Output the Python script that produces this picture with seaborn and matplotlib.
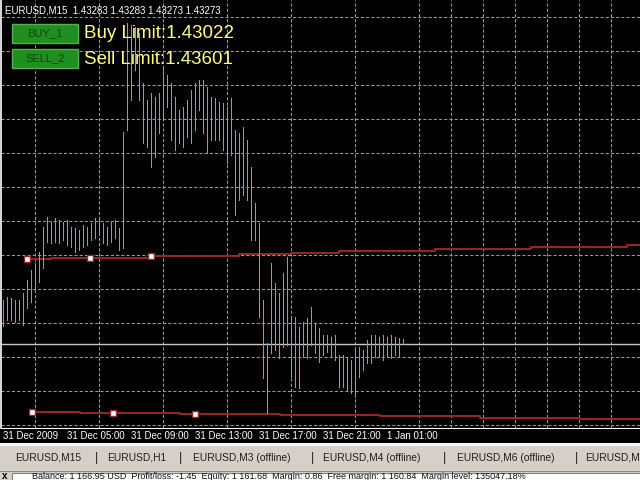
import matplotlib
matplotlib.use("Agg")
import matplotlib.pyplot as plt
from matplotlib.patches import Rectangle
import numpy as np
import seaborn as sns

# EURUSD M15 bars, 31 Dec 2009 from 01:00 (one bar = 15 min)
bar_high = [
    1.43361, 1.43367, 1.43365, 1.43361, 1.43361, 1.43375, 1.43401, 1.43421, 1.43435, 1.43457,
    1.43507, 1.43527, 1.43517, 1.43525, 1.43521, 1.43517, 1.43521, 1.43507, 1.43505, 1.43501,
    1.43511, 1.43507, 1.43515, 1.43525, 1.43527, 1.43515, 1.43507, 1.43517, 1.43521, 1.43505,
    1.43697, 1.43915, 1.43911, 1.43907, 1.43895, 1.43795, 1.43761, 1.43775, 1.43767, 1.43775,
    1.43827, 1.43811, 1.43795, 1.43767, 1.43741, 1.43747, 1.43761, 1.43781, 1.43795, 1.43801,
    1.43801, 1.43787, 1.43767, 1.43765, 1.43757, 1.43755, 1.43747, 1.43765, 1.43701, 1.43695,
    1.43707, 1.43681, 1.43627, 1.43555, 1.43515, 1.43361, 1.43275, 1.43435, 1.43395, 1.43375,
    1.43415, 1.43447, 1.43327, 1.43327, 1.43307, 1.43317, 1.43325, 1.43347, 1.43315, 1.43305,
    1.43291, 1.43291, 1.43287, 1.43291, 1.43251, 1.43251, 1.43247, 1.43241, 1.43265, 1.43267,
    1.43261, 1.43281, 1.43291, 1.43291, 1.43287, 1.43291, 1.43287, 1.43291, 1.43287, 1.43285,
    1.43283,
]
bar_low = [
    1.43309, 1.43321, 1.43321, 1.43317, 1.43321, 1.43311, 1.43345, 1.43357, 1.43381, 1.43397,
    1.43425, 1.43477, 1.43475, 1.43477, 1.43475, 1.43481, 1.43471, 1.43467, 1.43457, 1.43461,
    1.43467, 1.43471, 1.43481, 1.43485, 1.43491, 1.43475, 1.43471, 1.43477, 1.43485, 1.43461,
    1.43465, 1.43701, 1.43761, 1.43821, 1.43761, 1.43675, 1.43667, 1.43627, 1.43647, 1.43695,
    1.43721, 1.43747, 1.43681, 1.43661, 1.43675, 1.43667, 1.43687, 1.43675, 1.43701, 1.43741,
    1.43695, 1.43655, 1.43681, 1.43681, 1.43681, 1.43661, 1.43635, 1.43651, 1.43531, 1.43561,
    1.43571, 1.43561, 1.43481, 1.43481, 1.43327, 1.43205, 1.43135, 1.43255, 1.43261, 1.43245,
    1.43267, 1.43271, 1.43207, 1.43187, 1.43185, 1.43247, 1.43245, 1.43271, 1.43255, 1.43237,
    1.43251, 1.43257, 1.43247, 1.43241, 1.43187, 1.43187, 1.43181, 1.43175, 1.43167, 1.43207,
    1.43221, 1.43235, 1.43235, 1.43247, 1.43247, 1.43241, 1.43247, 1.43245, 1.43251, 1.43247,
    1.43273,
]

time_ticks = [0, 16, 32, 48, 64, 80, 96]
time_labels = ["31 Dec 2009", "31 Dec 05:00", "31 Dec 09:00", "31 Dec 13:00",
               "31 Dec 17:00", "31 Dec 21:00", "1 Jan 01:00"]

# stepped red lines (bar index, price)
upper_bars = [6, 12, 37, 59, 72, 84, 108, 132, 156, 160]
upper_price = [1.43443, 1.43446, 1.43450, 1.43453, 1.43456, 1.43459, 1.43463, 1.43468, 1.43471, 1.43471]
lower_bars = [7.25, 19.25, 44.25, 69.25, 94.25, 119.25, 144.25, 160]
lower_price = [1.43137, 1.43135, 1.43133, 1.43131, 1.43128, 1.43125, 1.43123, 1.43123]
upper_mark_bars = [6, 21.75, 37]
upper_mark_price = [1.43443, 1.43446, 1.43450]
lower_mark_bars = [7.25, 27.5, 48]
lower_mark_price = [1.43137, 1.43135, 1.43133]

bid = 1.43273
header = "EURUSD,M15  1.43283 1.43283 1.43273 1.43273"
buy_limit = 1.43022
sell_limit = 1.43601
tabs = ["EURUSD,M15", "EURUSD,H1", "EURUSD,M3 (offline)", "EURUSD,M4 (offline)",
        "EURUSD,M6 (offline)", "EURUSD,M"]
tab_x = [15, 107, 193, 323, 457, 585]
terminal = ("Balance: 1 166.95 USD  Profit/loss: -1.45  Equity: 1 161.68  "
            "Margin: 0.86  Free margin: 1 160.84  Margin level: 135047.18%")

sns.set_style("dark", {"axes.facecolor": "black", "figure.facecolor": "black"})
plt.rcParams["font.family"] = ["Liberation Sans", "DejaVu Sans"]

W, H = 640, 480
fig = plt.figure(figsize=(6.4, 4.8), dpi=100, facecolor="black")


def fx(x):
    return x / W


def fy(y):
    return 1 - y / H


ax = fig.add_axes([fx(1), fy(428), 1.0, 428 / H])
ax.set_facecolor("black")

idx = np.arange(len(bar_high))
ax.vlines(idx, bar_low, bar_high, color="#22ee22", lw=0.72, antialiased=False, zorder=3)

red = "#9b2626"
sns.lineplot(x=upper_bars, y=upper_price, drawstyle="steps-post", color=red, lw=1.4, ax=ax, zorder=2)
sns.lineplot(x=lower_bars, y=lower_price, drawstyle="steps-post", color=red, lw=1.4, ax=ax, zorder=2)
sns.scatterplot(x=upper_mark_bars + lower_mark_bars, y=upper_mark_price + lower_mark_price,
                marker="s", s=18, color="white", edgecolor=red, linewidth=1.0, ax=ax, zorder=4)
ax.axhline(bid, color="#c8c8c8", lw=1.0, zorder=2)

ax.set_xlim(-0.5, 159.5)
ax.set_ylim(1.43105, 1.43961)

# grid every 8 bars / 34 px
ax.set_xticks(np.arange(0, 160, 8), minor=True)
ax.set_yticks(1.43927 - 0.00068 * np.arange(13), minor=True)
ax.set_yticks([])
ax.grid(which="minor", color="#9a9a9a", lw=0.75, ls=(0, (3, 2)), zorder=1)
ax.grid(which="major", visible=False)
ax.set_xticks(time_ticks)
ax.set_xticklabels(time_labels, ha="left")
ax.tick_params(axis="x", which="major", colors="white", length=3, width=0.8,
               direction="out", pad=-1, labelsize=7)
ax.tick_params(axis="x", which="minor", length=0)
ax.tick_params(axis="y", which="both", length=0)
for side in ["top", "right"]:
    ax.spines[side].set_visible(False)
ax.spines["left"].set_color("white")
ax.spines["bottom"].set_color("white")
ax.spines["left"].set_linewidth(1.2)
ax.spines["bottom"].set_linewidth(0.8)

fig.text(fx(5), fy(10.5), header, color="white", fontsize=7, va="center", ha="left")

# buttons and limit texts
for y0, name, label in [(24, "BUY_1", f"Buy Limit:{buy_limit:.5f}"),
                        (49, "SELL_2", f"Sell Limit:{sell_limit:.5f}")]:
    fig.patches.append(Rectangle((fx(12), fy(y0 + 19)), 66 / W, 19 / H, transform=fig.transFigure,
                                 facecolor="#1f8f1f", edgecolor="#55b055", lw=1.0, zorder=5))
    fig.text(fx(45), fy(y0 + 9.5), name, color="#0c480c", fontsize=8, ha="center", va="center", zorder=6)
    fig.text(fx(84), fy(y0 + 10), label, color="#ffff80", fontsize=13.5, ha="left", va="center", zorder=6)

# bottom tab bar and terminal strip
fig.patches.append(Rectangle((0, fy(446)), 1, 3 / H, transform=fig.transFigure,
                             facecolor="#f4f4f4", edgecolor="none", zorder=5))
fig.patches.append(Rectangle((0, 0), 1, fy(446), transform=fig.transFigure,
                             facecolor="#d4d0c8", edgecolor="none", zorder=5))
fig.patches.append(Rectangle((0, fy(471.5)), 1, 1 / H, transform=fig.transFigure,
                             facecolor="#8a8a8a", edgecolor="none", zorder=6))
fig.patches.append(Rectangle((fx(12), fy(481)), 1, 8 / H, transform=fig.transFigure,
                             facecolor="white", edgecolor="#808080", lw=0.8, zorder=6))
for x, name in zip(tab_x, tabs):
    fig.text(fx(x), fy(458), name, color="#202020", fontsize=7.4, ha="left", va="center", zorder=7)
for x in [97, 180, 313, 444, 577]:
    fig.text(fx(x), fy(458), "|", color="#202020", fontsize=9, ha="center", va="center", zorder=7)
fig.text(fx(2), fy(476), "x", color="black", fontsize=7, fontweight="bold", ha="left", va="center", zorder=7)
fig.text(fx(32), fy(476.5), terminal, color="#101010", fontsize=6.5, ha="left", va="center", zorder=7)

fig.savefig("out.png", dpi=100, facecolor="black")
